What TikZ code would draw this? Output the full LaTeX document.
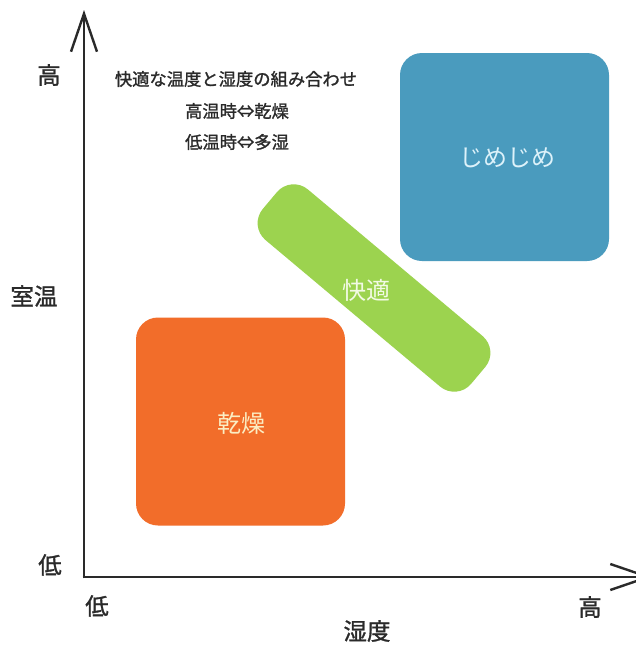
\documentclass[tikz,border=0pt]{standalone}
\usepackage{fontspec}
\setmainfont{Noto Sans CJK JP}
\newfontfamily\jpmed[FakeBold=1.3]{Noto Sans CJK JP}
\usetikzlibrary{arrows.meta}
\definecolor{txtgray}{HTML}{2A2A2A}
\definecolor{orangebox}{HTML}{F26D2A}
\definecolor{bluebox}{HTML}{4A9BBE}
\definecolor{greenbox}{HTML}{9CD34F}
\definecolor{orangetxt}{HTML}{FBEEC4}
\definecolor{bluetxt}{HTML}{DDF2FA}
\definecolor{greentxt}{HTML}{F2FAE4}
\tikzset{
  axis/.style={line width=2.6pt, draw=txtgray, -{Straight Barb[length=38pt,width=26pt,line width=2.4pt]}},
  axlabel/.style={text=txtgray, font=\jpmed\fontsize{23.5}{25}\selectfont, inner sep=0pt},
  note/.style={text=txtgray, font=\jpmed\fontsize{17.3}{19}\selectfont, inner sep=0pt},
  box/.style={rectangle, rounded corners=22pt, minimum width=209pt, minimum height=208pt, inner sep=0pt},
  boxlabel/.style={font=\fontsize{24}{26}\selectfont, inner sep=0pt}
}
\begin{document}
\begin{tikzpicture}[x=1pt,y=-1pt]
\clip (0,0) rectangle (636,646);
\fill[white] (0,0) rectangle (636,646);
% boxes
\node[box, fill=bluebox] (humid) at (504.5,157) {};
\node[box, fill=orangebox] (dry) at (240.5,421.5) {};
\node[rectangle, rounded corners=22pt, fill=greenbox, minimum width=272pt, minimum height=66pt, rotate=-40] (comfort) at (374,288) {};
\node[boxlabel, text=bluetxt] (humidlbl) at (507,158) {じめじめ};
\node[boxlabel, text=orangetxt] (drylbl) at (241,423) {乾燥};
\node[boxlabel, text=greentxt] (comfortlbl) at (366,290) {快適};
% axes
\coordinate (origin) at (84,577);
\coordinate (ytip) at (84,10);
\coordinate (xtip) at (652,577);
\draw[axis] (origin |- 0,578.3) -- (ytip);
\draw[axis] (82.7,577) -- (xtip);
% axis labels
\node[axlabel] (yhigh) at (49,75) {高};
\node[axlabel] (ytitle) at (34,296) {室温};
\node[axlabel] (ylow) at (50,565) {低};
\node[axlabel] (xlow) at (97,606) {低};
\node[axlabel] (xhigh) at (590,607) {高};
\node[axlabel] (xtitle) at (367,631) {湿度};
% notes
\node[note] (note1) at (236,79) {快適な温度と湿度の組み合わせ};
\node[note] (note2) at (237,111) {高温時⇔乾燥};
\node[note] (note3) at (237,142) {低温時⇔多湿};
\end{tikzpicture}
\end{document}
